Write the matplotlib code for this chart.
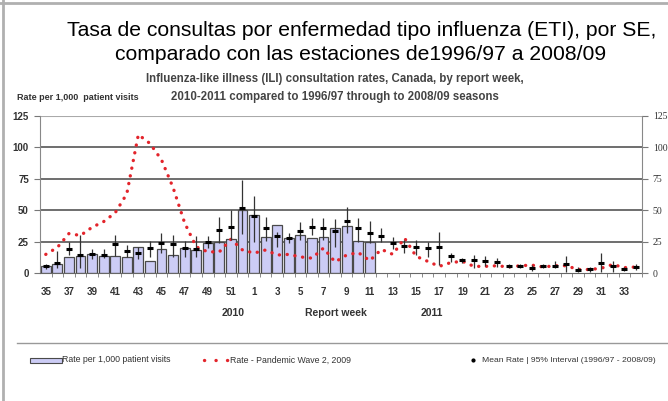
import matplotlib.pyplot as plt
from matplotlib.lines import Line2D
from matplotlib.patches import Rectangle
import numpy as np

plt.rcParams['font.family'] = ['Liberation Sans', 'DejaVu Sans']

# report weeks, 2010 season (35-52) then 2011 (1-34)
weeks = list(range(35, 53)) + list(range(1, 35))

# 2010-2011 rate per 1,000 patient visits (weeks 35 .. 11)
rate = [6, 7.5, 13, 14, 15, 14, 14, 13, 21, 10, 19.5, 14.5, 20, 18.5, 24, 24.5,
        27.5, 50.5, 46, 28.5, 38, 28, 30, 28, 28.5, 36, 37.5, 25.5, 24.5]

# pandemic wave 2, 2009
pandemic = [15, 20.5, 31.5, 30, 36.5, 41, 48, 63, 110, 103, 90, 68, 40, 21, 17, 17,
            27, 18.5, 16, 18.5, 14.5, 15, 13, 12, 20, 9, 14.5, 16.5, 10, 19, 15, 28,
            13.5, 9.5, 5.5, 8.5, 9.5, 5.5, 5.5, 6, 5, 6, 6.5, 5, 6, 6, 3, 3, 4, 7,
            4.5, 5]

# mean rate 1996/97 - 2008/09 and its 95% interval
mean_rate = [5.5, 8.5, 19.2, 14.5, 15.2, 14.8, 23, 17.8, 16.1, 20.4, 24, 23.3, 20,
             19.6, 24.6, 34.4, 37, 52, 45.2, 35.6, 29.6, 27.8, 33.6, 37, 35.7, 33.6,
             41.8, 35.7, 32.3, 29.6, 23.8, 21.7, 21, 19.8, 21, 13.4, 10.2, 10.7, 10,
             8.8, 6.1, 6, 4, 6, 6, 7.2, 2.7, 3.5, 8, 6, 3.5, 5.3]
ci_high = [7.5, 18, 24.5, 30, 19, 19, 30.5, 22.5, 20.5, 25.5, 32.3, 30.4, 26, 29.6,
           29.6, 45, 50, 74, 61, 44.3, 33, 31.7, 40.5, 43.6, 44, 43, 52.4, 44, 41.8,
           35.7, 29, 26.5, 26.5, 25, 33, 16, 12, 14.7, 14, 12, 7.5, 7.5, 6.7, 7.5,
           9.4, 13.4, 4.8, 5.3, 16, 9.4, 4.8, 7.5]
ci_low = [3.5, 4, 14.5, 4, 11, 12, 14, 13.3, 11, 13.3, 16.2, 13, 13, 13, 20, 24,
          26.5, 31, 25, 25.5, 21, 23.8, 26.5, 30.4, 26.5, 21, 31.7, 25, 23.8, 25,
          19.3, 16.4, 14.5, 12.7, 6.6, 8.8, 8, 4, 6, 5.3, 4, 4.5, 2, 4.5, 4, 1.3,
          1.3, 1.3, 1.3, 1.3, 2, 2.7]

x = np.arange(len(weeks))
xr = np.arange(len(rate))
mean_arr = np.array(mean_rate)
err = [mean_arr - np.array(ci_low), np.array(ci_high) - mean_arr]

red = '#e3242b'

fig = plt.figure(figsize=(6.68, 4.01), dpi=100)
ax = fig.add_axes([40 / 668, 1 - 273.3 / 401, (641.7 - 40) / 668, (273.3 - 115.7) / 401])

for yv in [25, 50, 75, 100]:
    ax.axhline(yv, color='#555555', lw=1.2, zorder=1)
ax.axhline(125, color='#aaaaaa', lw=1.5, zorder=1)

ax.bar(xr, rate, width=0.86, color='#ccccf5', edgecolor='#4a4a4a', lw=0.9, zorder=2)
ax.plot(x, pandemic, color=red, lw=2.4, linestyle=(0, (0.05, 2.3)), dash_capstyle='round',
        zorder=3)
ax.errorbar(x, mean_rate, yerr=err, fmt='none', ecolor='#333333', elinewidth=0.9,
            capsize=0, zorder=4)
ax.plot(x, mean_rate, linestyle='none', marker='_', ms=4.5, mew=2.2, color='black', zorder=5)

ax.set_xlim(-0.5, len(weeks) - 0.5)
ax.set_ylim(0, 125)
ax.set_yticks([0, 25, 50, 75, 100, 125])
ax.set_xticks(x[::2])
ax.set_xticklabels([str(w) for w in weeks[::2]], fontsize=7, fontweight='bold', color='#333333')
ax.set_xticks(x + 0.5, minor=True)
ax.tick_params(axis='x', which='major', length=0, pad=10)
ax.tick_params(axis='x', which='minor', length=3, color='#777777', direction='out')
ax.tick_params(axis='y', length=4, color='#777777', pad=4, labelsize=7, labelcolor='#333333')
for lab in ax.get_yticklabels():
    lab.set_fontweight('bold')
for s in ['top', 'right']:
    ax.spines[s].set_visible(False)
ax.spines['left'].set_color('#888888')
ax.spines['bottom'].set_color('#666666')

ax2 = ax.twinx()
ax2.set_ylim(0, 125)
ax2.set_yticks([0, 25, 50, 75, 100, 125])
ax2.tick_params(axis='y', length=4, color='#777777', pad=4, labelsize=7, labelcolor='#333333')
for lab in ax2.get_yticklabels():
    lab.set_family('Liberation Serif')
for s in ['top', 'left', 'bottom']:
    ax2.spines[s].set_visible(False)
ax2.spines['right'].set_color('#888888')

# titles
fig.text(0.541, 1 - 30 / 401, 'Tasa de consultas por enfermedad tipo influenza (ETI), por SE,',
         ha='center', va='center', fontsize=15.2, color='black')
fig.text(0.54, 1 - 55 / 401, 'comparado con las estaciones de1996/97 a 2008/09',
         ha='center', va='center', fontsize=15.2, color='black')
fig.text(0.5015, 1 - 79 / 401, 'Influenza-like illness (ILI) consultation rates, Canada, by report week,',
         ha='center', va='center', fontsize=8.3, fontweight='bold', color='#444444')
fig.text(0.5015, 1 - 97 / 401, '2010-2011 compared to 1996/97 through to 2008/09 seasons',
         ha='center', va='center', fontsize=8.3, fontweight='bold', color='#444444')
fig.text(17 / 668, 1 - 98 / 401, 'Rate per 1,000  patient visits', ha='left', va='center',
         fontsize=6.5, fontweight='bold', color='#333333')

fig.text(233 / 668, 1 - 313 / 401, '2010', ha='center', va='center', fontsize=7.5,
         fontweight='bold', color='#333333')
fig.text(336 / 668, 1 - 313 / 401, 'Report week', ha='center', va='center', fontsize=7.5,
         fontweight='bold', color='#333333')
fig.text(432 / 668, 1 - 313 / 401, '2011', ha='center', va='center', fontsize=7.5,
         fontweight='bold', color='#333333')

# legend row
fig.add_artist(Line2D([17 / 668, 1], [1 - 343 / 401] * 2, color='#999999', lw=1))
ly = 1 - 360 / 401
fig.add_artist(Rectangle((30 / 668, ly - 2.5 / 401), 32 / 668, 5 / 401, facecolor='#ccccf5',
                         edgecolor='#4a4a4a', lw=0.8))
fig.text(62 / 668, ly, 'Rate per 1,000 patient visits', ha='left', va='center', fontsize=6.3,
         color='#333333')
fig.add_artist(Line2D([204 / 668, 229 / 668], [ly, ly], color=red, lw=2.4,
                      linestyle=(0, (0.05, 3.4)), dash_capstyle='round'))
fig.text(230 / 668, ly, 'Rate - Pandemic Wave 2, 2009', ha='left', va='center', fontsize=6.3,
         color='#333333')
fig.add_artist(Line2D([473 / 668], [ly], marker='o', ms=2, color='black', linestyle='none'))
fig.text(482 / 668, ly, 'Mean Rate | 95% Interval (1996/97 - 2008/09)', ha='left', va='center',
         fontsize=6.1, color='#333333')

# slide frame
fig.add_artist(Line2D([0, 1], [1 - 3 / 401] * 2, color='#b0b0b0', lw=2))
fig.add_artist(Line2D([3 / 668] * 2, [0, 1], color='#b0b0b0', lw=2))

fig.savefig('out.png', dpi=100)
